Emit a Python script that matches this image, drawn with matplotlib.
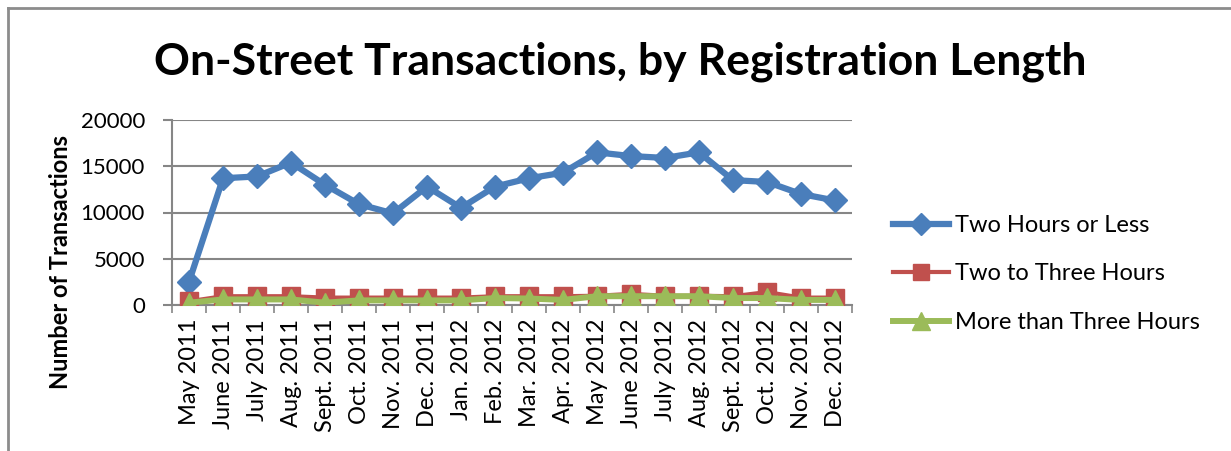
import matplotlib
matplotlib.use("Agg")
import matplotlib.pyplot as plt
from matplotlib.lines import Line2D
import numpy as np

categories = ["May 2011", "June 2011", "July 2011", "Aug. 2011", "Sept. 2011",
              "Oct. 2011", "Nov. 2011", "Dec. 2011", "Jan. 2012", "Feb. 2012",
              "Mar. 2012", "Apr. 2012", "May 2012", "June 2012", "July 2012",
              "Aug. 2012", "Sept. 2012", "Oct. 2012", "Nov. 2012", "Dec. 2012"]
two_hours_or_less = [2500, 13700, 13900, 15400, 13000, 10900, 9900, 12800, 10500, 12800,
                     13700, 14300, 16500, 16100, 15900, 16500, 13500, 13300, 12000, 11300]
two_to_three_hours = [400, 950, 950, 950, 800, 800, 800, 800, 800, 950,
                      950, 950, 1000, 1200, 1000, 1000, 950, 1400, 800, 800]
more_than_three_hours = [250, 600, 600, 600, 250, 500, 500, 500, 500, 750,
                         700, 550, 950, 950, 950, 950, 750, 750, 550, 550]
series_names = ["Two Hours or Less", "Two to Three Hours", "More than Three Hours"]
yticks = [0, 5000, 10000, 15000, 20000]

FONT = "Lato"
W, H = 1231, 451
fig = plt.figure(figsize=(W / 100, H / 100), dpi=100)
ax = fig.add_axes([172 / W, 1 - 305 / H, 680 / W, 185 / H])

x = np.arange(len(categories))
blue, red, green = "#4A7EBB", "#C0504D", "#9BBB59"
l1, = ax.plot(x, two_hours_or_less, color=blue, lw=4.5, marker="D", ms=12,
              markeredgecolor=blue, zorder=3, solid_joinstyle="round")
l2, = ax.plot(x, two_to_three_hours, color=red, lw=3, marker="s", ms=13,
              markeredgecolor=red, zorder=4)
l3, = ax.plot(x, more_than_three_hours, color=green, lw=4.3, marker="^", ms=15,
              markeredgecolor=green, zorder=5)

ax.set_xlim(-0.5, len(categories) - 0.5)
ax.set_ylim(0, 20000)
ax.set_yticks(yticks)
ax.set_yticklabels([str(v) for v in yticks], fontsize=16, family=FONT)
ax.grid(axis="y", color="#868686", lw=1.5)
ax.set_axisbelow(True)
ax.set_xticks(x)
ax.set_xticklabels(categories, rotation=90, fontsize=17, family=FONT)
ax.set_xticks(np.arange(-0.5, len(categories), 1), minor=True)
ax.tick_params(axis="x", which="major", length=0, pad=10)
ax.tick_params(axis="x", which="minor", length=6, color="#868686", width=1.2, direction="out")
ax.tick_params(axis="y", length=6.5, color="#868686", width=1.5, pad=13)
for s in ["top", "right"]:
    ax.spines[s].set_visible(False)
for s in ["left", "bottom"]:
    ax.spines[s].set_color("#868686")
    ax.spines[s].set_linewidth(1.5)

fig.text(620 / W, 1 - 62 / H, "On-Street Transactions, by Registration Length",
         ha="center", va="center", fontsize=32, fontweight="bold", family=FONT)
fig.text(60 / W, 1 - 262 / H, "Number of Transactions", rotation=90,
         ha="center", va="center", fontsize=17, fontweight="bold", family=FONT)

leg = fig.legend([l1, l2, l3], series_names, loc="center left",
                 bbox_to_anchor=(872 / W, 1 - 274 / H), frameon=False,
                 prop={"family": FONT, "size": 17}, handlelength=2.35,
                 handletextpad=0.25, labelspacing=1.16, markerscale=0.9)

# outer chart border (top and left visible)
fig.add_artist(Line2D([8 / W, 1.0], [1 - 8 / H, 1 - 8 / H], color="#8c8c8c", lw=2,
                      transform=fig.transFigure))
fig.add_artist(Line2D([8 / W, 8 / W], [1 - 8 / H, 0], color="#8c8c8c", lw=2,
                      transform=fig.transFigure))

fig.savefig("out.png", dpi=100)
